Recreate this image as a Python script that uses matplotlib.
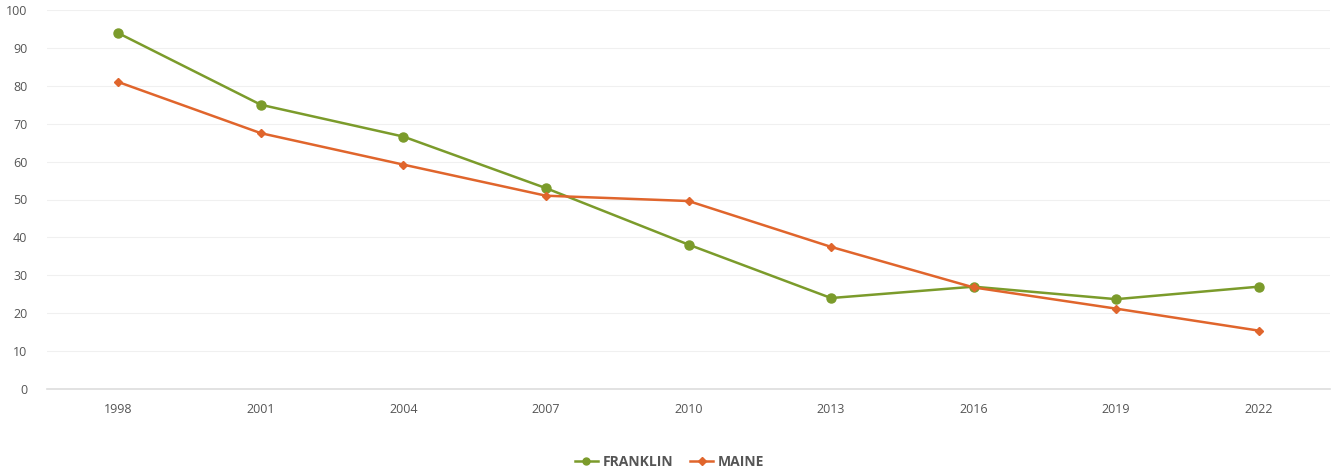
import matplotlib.pyplot as plt
from matplotlib.lines import Line2D

plt.rcParams["font.family"] = ["Open Sans", "DejaVu Sans"]

years = ["1998", "2001", "2004", "2007", "2010", "2013", "2016", "2019", "2022"]
franklin = [93.9, 75.0, 66.6, 53.0, 38.1, 24.0, 27.0, 23.7, 27.0]
maine = [81.0, 67.5, 59.2, 51.0, 49.6, 37.5, 26.8, 21.2, 15.4]

GREEN = "#7b9b2b"
ORANGE = "#e0652c"

fig = plt.figure(figsize=(13.32, 4.71), dpi=100)
ax = fig.add_axes([47 / 1332, 1 - 389 / 471, 1283 / 1332, 379 / 471])

x = list(range(len(years)))
ax.plot(x, franklin, color=GREEN, lw=1.8, marker="o", ms=6.5, zorder=3)
ax.plot(x, maine, color=ORANGE, lw=1.8, marker="D", ms=4.5, zorder=3)

ax.set_xlim(-0.5, len(years) - 0.5)
ax.set_ylim(0, 100)
ax.set_yticks(range(0, 101, 10))
ax.set_xticks(x)
ax.set_xticklabels(years)
ax.tick_params(axis="both", length=0, labelsize=9, colors="#555555")
ax.tick_params(axis="x", pad=10)
ax.tick_params(axis="y", pad=14)
ax.grid(axis="y", color="#f0f0f0", lw=0.8)
ax.set_axisbelow(True)
for side in ["top", "right", "left"]:
    ax.spines[side].set_visible(False)
ax.spines["bottom"].set_color("#dddddd")
ax.spines["bottom"].set_linewidth(1.2)

handles = [
    Line2D([], [], color=GREEN, lw=1.8, marker="o", ms=5, label="FRANKLIN"),
    Line2D([], [], color=ORANGE, lw=1.8, marker="D", ms=4, label="MAINE"),
]
leg = fig.legend(handles=handles, loc="center", bbox_to_anchor=(0.503, 1 - 462 / 471),
                 ncol=2, frameon=False, handlelength=1.6, columnspacing=1.2,
                 handletextpad=0.4, prop={"weight": "bold", "size": 10})
for t in leg.get_texts():
    t.set_color("#555555")

fig.savefig("out.png", dpi=100)
